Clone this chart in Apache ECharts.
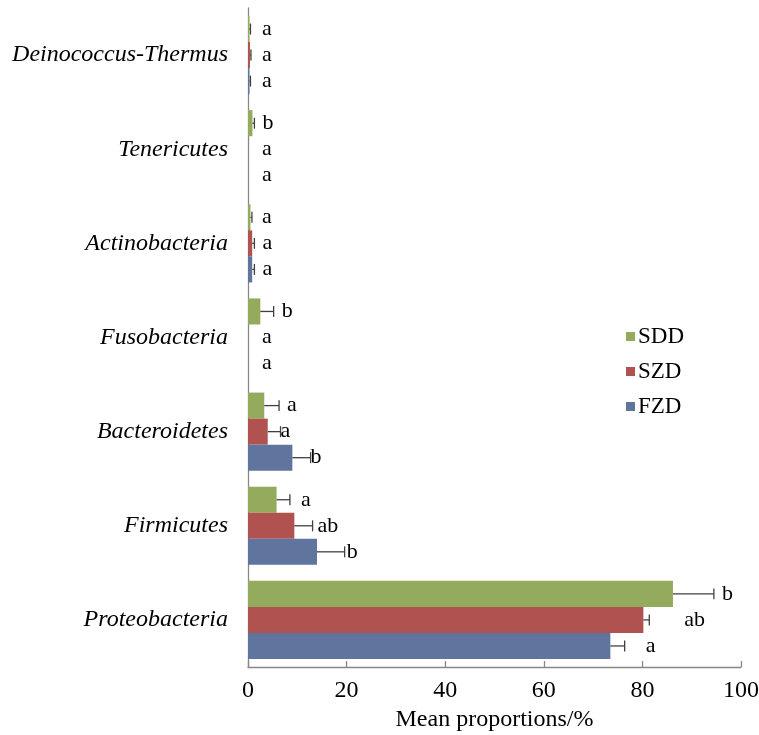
<!DOCTYPE html>
<html>
<head>
<meta charset="utf-8">
<script src="https://cdn.jsdelivr.net/npm/echarts@6/dist/echarts.min.js"></script>
<style>
  html, body { margin: 0; padding: 0; background: #ffffff; }
  #chart { width: 759px; height: 735px; }
</style>
</head>
<body>
<div id="chart"></div>
<script>
// Phyla, listed bottom to top along the category axis
const phyla = ['Proteobacteria', 'Firmicutes', 'Bacteroidetes', 'Fusobacteria',
               'Actinobacteria', 'Tenericutes', 'Deinococcus-Thermus'];

// Mean relative abundance (%) per group
const sdd = [86.2, 5.8, 3.3, 2.5, 0.5, 0.9, 0.3];
const szd = [80.2, 9.4, 4.0, 0, 0.85, 0, 0.4];
const fzd = [73.5, 14.0, 9.0, 0, 0.85, 0, 0.3];

// Standard deviation per group
const sddErr = [8.3, 2.7, 3.0, 2.7, 0.3, 0.4, 0.2];
const szdErr = [1.2, 3.7, 2.6, 0, 0.45, 0, 0.2];
const fzdErr = [2.9, 5.6, 3.7, 0, 0.45, 0, 0.2];

// Significance letters
const sddSig = ['b', 'a', 'a', 'b', 'a', 'b', 'a'];
const szdSig = ['ab', 'ab', 'a', 'a', 'a', 'a', 'a'];
const fzdSig = ['a', 'b', 'b', 'a', 'a', 'a', 'a'];

// X axis ticks
const xTicks = [0, 20, 40, 60, 80, 100];

// Small horizontal nudges (px) for the letter labels
const sddShift = [0, 3, 0, 0, 0, 0, 0];
const szdShift = [27, -3, -8, 0, 0, 0, 0];
const fzdShift = [13, -6, -8, 0, 0, 0, 0];

const COLORS = { SDD: '#94AB5E', SZD: '#B05250', FZD: '#60759E' };
const SERIF = '"Liberation Serif", "Times New Roman", serif';
const GAP = 0.17;

// groups in drawing order: the first bar sits at the top of each band
const groups = [
  { name: 'SDD', vals: sdd, err: sddErr, sig: sddSig, shift: sddShift, k: 2 },
  { name: 'SZD', vals: szd, err: szdErr, sig: szdSig, shift: szdShift, k: 1 },
  { name: 'FZD', vals: fzd, err: fzdErr, sig: fzdSig, shift: fzdShift, k: 0 }
];

function errorRenderer(k) {
  return function (params, api) {
    const v = api.value(0);
    const cat = api.value(1);
    const e = api.value(2);
    const letter = api.value(3);
    const shift = api.value(4);
    const band = api.size([0, 1])[1];
    const barW = band * (1 - GAP) / 3;
    const base = api.coord([0, cat]);
    const cy = base[1] + (1 - k) * barW;
    const x0 = api.coord([v, cat])[0];
    const x1 = api.coord([v + e, cat])[0];
    const children = [];
    if (e > 0) {
      const cap = barW * 0.42;
      children.push({
        type: 'line',
        shape: { x1: x0, y1: cy, x2: x1, y2: cy },
        style: { stroke: '#404040', lineWidth: 1.3 }
      });
      children.push({
        type: 'line',
        shape: { x1: x1, y1: cy - cap / 2, x2: x1, y2: cy + cap / 2 },
        style: { stroke: '#404040', lineWidth: 1.3 }
      });
    }
    const tx = Math.max(x1 + 8, base[0] + 14) + shift;
    children.push({
      type: 'text',
      x: tx,
      y: cy,
      style: {
        text: letter,
        font: '22px ' + SERIF,
        fill: '#000000',
        verticalAlign: 'middle',
        align: 'left'
      }
    });
    return { type: 'group', children: children };
  };
}

const series = [];
groups.forEach(g => {
  series.push({
    name: g.name,
    type: 'bar',
    data: g.vals,
    barGap: '0%',
    barCategoryGap: (GAP * 100) + '%',
    itemStyle: { color: COLORS[g.name] },
    silent: true
  });
});
groups.forEach(g => {
  series.push({
    name: g.name + '-err',
    type: 'custom',
    renderItem: errorRenderer(g.k),
    encode: { x: 0, y: 1 },
    data: g.vals.map((v, i) => [v, i, g.err[i], g.sig[i], g.shift[i]]),
    z: 5,
    silent: true
  });
});

const chart = echarts.init(document.getElementById('chart'), null, { renderer: 'canvas' });
chart.setOption({
  animation: false,
  backgroundColor: '#ffffff',
  grid: { left: 248, right: 18, top: 8, bottom: 68, containLabel: false, outerBoundsMode: 'none' },
  legend: {
    data: ['SDD', 'SZD', 'FZD'],
    orient: 'vertical',
    left: 621,
    top: 320,
    icon: 'rect',
    itemWidth: 9,
    itemHeight: 9,
    itemGap: 12,
    selectedMode: false,
    textStyle: { fontFamily: SERIF, fontSize: 23, color: '#000000', padding: [0, 0, 0, -2] }
  },
  xAxis: {
    type: 'value',
    min: xTicks[0],
    max: xTicks[xTicks.length - 1],
    interval: xTicks[1] - xTicks[0],
    name: 'Mean proportions/%',
    nameLocation: 'middle',
    nameGap: 40,
    nameTextStyle: { fontFamily: SERIF, fontSize: 24, color: '#000000' },
    axisLine: { show: true, lineStyle: { color: '#888888', width: 1.3 } },
    axisTick: { show: true, inside: true, length: 6, lineStyle: { color: '#888888', width: 1.3 } },
    axisLabel: { fontFamily: SERIF, fontSize: 24, color: '#000000', margin: 12 },
    splitLine: { show: false }
  },
  yAxis: {
    type: 'category',
    data: phyla,
    axisLine: { show: true, lineStyle: { color: '#888888', width: 1.3 } },
    axisTick: { show: false },
    axisLabel: { fontFamily: SERIF, fontSize: 24, fontStyle: 'italic', color: '#000000', margin: 20 },
    splitLine: { show: false }
  },
  series: series
});
</script>
</body>
</html>
